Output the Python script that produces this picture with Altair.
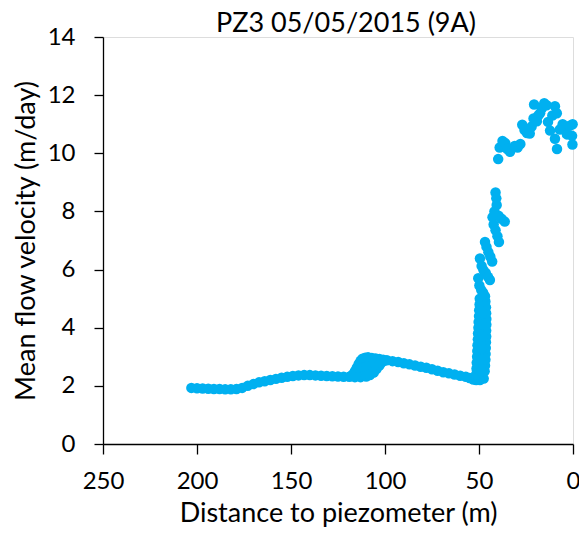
import altair as alt
import pandas as pd

# ---- data (distance in m, velocity in m/day) ----
low_x = [203, 200, 197, 194, 191, 188, 185, 182, 179, 176, 173, 170, 167, 164, 161,
         158, 155, 152, 149, 146, 143, 140, 137, 134, 131, 128, 125, 122, 119]
low_y = [1.93, 1.92, 1.91, 1.90, 1.89, 1.89, 1.88, 1.88, 1.89, 1.93, 2.00, 2.06, 2.12, 2.16, 2.20,
         2.24, 2.28, 2.31, 2.34, 2.36, 2.37, 2.37, 2.36, 2.35, 2.34, 2.33, 2.32, 2.31, 2.31]

hump_up_x = [118, 117, 116, 115, 114, 113, 112, 110.5, 109, 107, 105, 103, 101]
hump_up_y = [2.34, 2.40, 2.50, 2.62, 2.75, 2.86, 2.93, 2.97, 2.98, 2.96, 2.94, 2.92, 2.90]

hump_mid_x = [114, 113, 112, 111, 110, 109, 108, 107, 106, 105]
hump_mid_y = [2.50, 2.58, 2.62, 2.64, 2.65, 2.66, 2.67, 2.69, 2.71, 2.75]

hump_low_x = [116, 113, 110, 108, 106, 104.5, 103, 102, 100.5]
hump_low_y = [2.30, 2.30, 2.32, 2.37, 2.46, 2.58, 2.70, 2.79, 2.86]

desc_x = [99, 96, 93, 90, 87, 84, 81, 78, 75, 72, 69, 66, 63, 60, 57, 55, 53, 51.5, 49.5, 47.5]
desc_y = [2.88, 2.85, 2.82, 2.78, 2.74, 2.70, 2.66, 2.62, 2.57, 2.52, 2.47, 2.43, 2.39, 2.35, 2.31, 2.27, 2.22, 2.20, 2.20, 2.25]

colA_x = [51.5, 51.3, 51.2, 51.0, 50.9, 50.8, 50.6, 50.5, 50.3, 50.2, 50.0, 49.9, 49.7, 49.6]
colA_y = [2.4, 2.6, 2.8, 3.0, 3.2, 3.4, 3.6, 3.8, 4.0, 4.2, 4.4, 4.6, 4.8, 5.0]
colB_x = [47.0, 46.8, 46.6, 46.5, 46.4, 46.3, 46.2, 46.2, 46.1, 46.1, 46.2, 46.3, 46.6]
colB_y = [2.5, 2.7, 2.9, 3.1, 3.3, 3.5, 3.7, 3.9, 4.1, 4.3, 4.5, 4.7, 4.9]
colM_x = [48.8, 48.6, 48.4, 48.3, 48.2, 48.1, 48.0]
colM_y = [2.5, 2.9, 3.3, 3.7, 4.1, 4.5, 4.9]

zig_x = [41.2, 40.8, 40.6, 41.8, 42.8, 39.6, 38.0, 36.3, 42.2, 41.2, 40.2, 39.4, 46.8, 46.0,
         45.0, 44.0, 43.0, 49.5, 48.6, 47.6, 46.4, 45.2, 44.2, 50.4, 49.8, 48.8, 47.8, 46.8]
zig_y = [8.65, 8.45, 8.22, 8.00, 7.80, 7.85, 7.75, 7.65, 7.55, 7.35, 7.15, 6.95, 6.95, 6.78,
         6.60, 6.44, 6.28, 6.38, 6.12, 5.98, 5.88, 5.75, 5.64, 5.70, 5.45, 5.30, 5.20, 5.08]

top_x = [39.8, 39.0, 37.5, 36.0, 35.0, 33.5, 31.0, 29.5, 28.0, 27.0, 25.8, 24.5, 23.0, 22.0,
         21.0, 20.7, 19.2, 18.5, 17.5, 16.5, 15.3, 14.0, 13.3, 12.2, 11.0, 9.6, 8.6, 9.6,
         8.5, 7.0, 5.5, 4.0, 3.2, 1.8, 0.5, 0.3, 0.2]
top_y = [9.80, 10.20, 10.42, 10.35, 10.15, 10.05, 10.25, 10.20, 10.32, 10.98, 10.80, 10.70, 10.68, 10.92,
         11.20, 11.68, 11.10, 11.30, 11.38, 11.55, 11.72, 11.65, 11.08, 10.78, 11.30, 11.62, 11.38, 10.50,
         10.15, 10.82, 11.00, 10.85, 10.65, 10.95, 10.60, 10.30, 11.00]

x_ticks = [250, 200, 150, 100, 50, 0]
y_ticks = [0, 2, 4, 6, 8, 10, 12, 14]

xs = low_x + hump_up_x + hump_mid_x + hump_low_x + desc_x + colA_x + colB_x + colM_x + zig_x + top_x
ys = low_y + hump_up_y + hump_mid_y + hump_low_y + desc_y + colA_y + colB_y + colM_y + zig_y + top_y
df = pd.DataFrame({"distance": xs, "velocity": ys})

FONT = "Lato"
W, H = 470, 407

common = dict(grid=False, domainColor="#000", domainWidth=1.3, tickColor="#000", tickWidth=1.3,
              labelColor="#000", labelFont=FONT, labelFontSize=24, labelFlush=False,
              labelOverlap=False, titleFont=FONT, titleFontSize=27, titleFontWeight="normal",
              titleColor="#000", titleAlign="center", titleBaseline="middle")

chart = alt.Chart(df).mark_circle(size=110, color="#00B0F0", opacity=1).encode(
    x=alt.X("distance:Q",
            scale=alt.Scale(domain=[0, 250], reverse=True, nice=False, zero=False),
            axis=alt.Axis(values=x_ticks, title="Distance to piezometer (m)", tickSize=10,
                          labelPadding=15, titleX=W / 2, titleY=69, **common)),
    y=alt.Y("velocity:Q",
            scale=alt.Scale(domain=[0, 14], nice=False, zero=False),
            axis=alt.Axis(values=y_ticks, title="Mean flow velocity (m/day)", tickSize=9,
                          labelPadding=19, titleX=-77, titleY=H / 2, titleAngle=270, **common)),
).properties(
    width=W, height=H,
    title=alt.TitleParams("PZ3 05/05/2015 (9A)", font=FONT, fontSize=27, fontWeight="normal",
                          color="#000", anchor="middle", frame="group", offset=-13, dx=8),
    autosize=alt.AutoSizeParams(type="none"),
    padding={"left": 95, "top": 29, "right": 6, "bottom": 83},
).configure_view(stroke=None).configure(background="white")

chart.save("out.html", embed_options={"renderer": "svg", "actions": False})
